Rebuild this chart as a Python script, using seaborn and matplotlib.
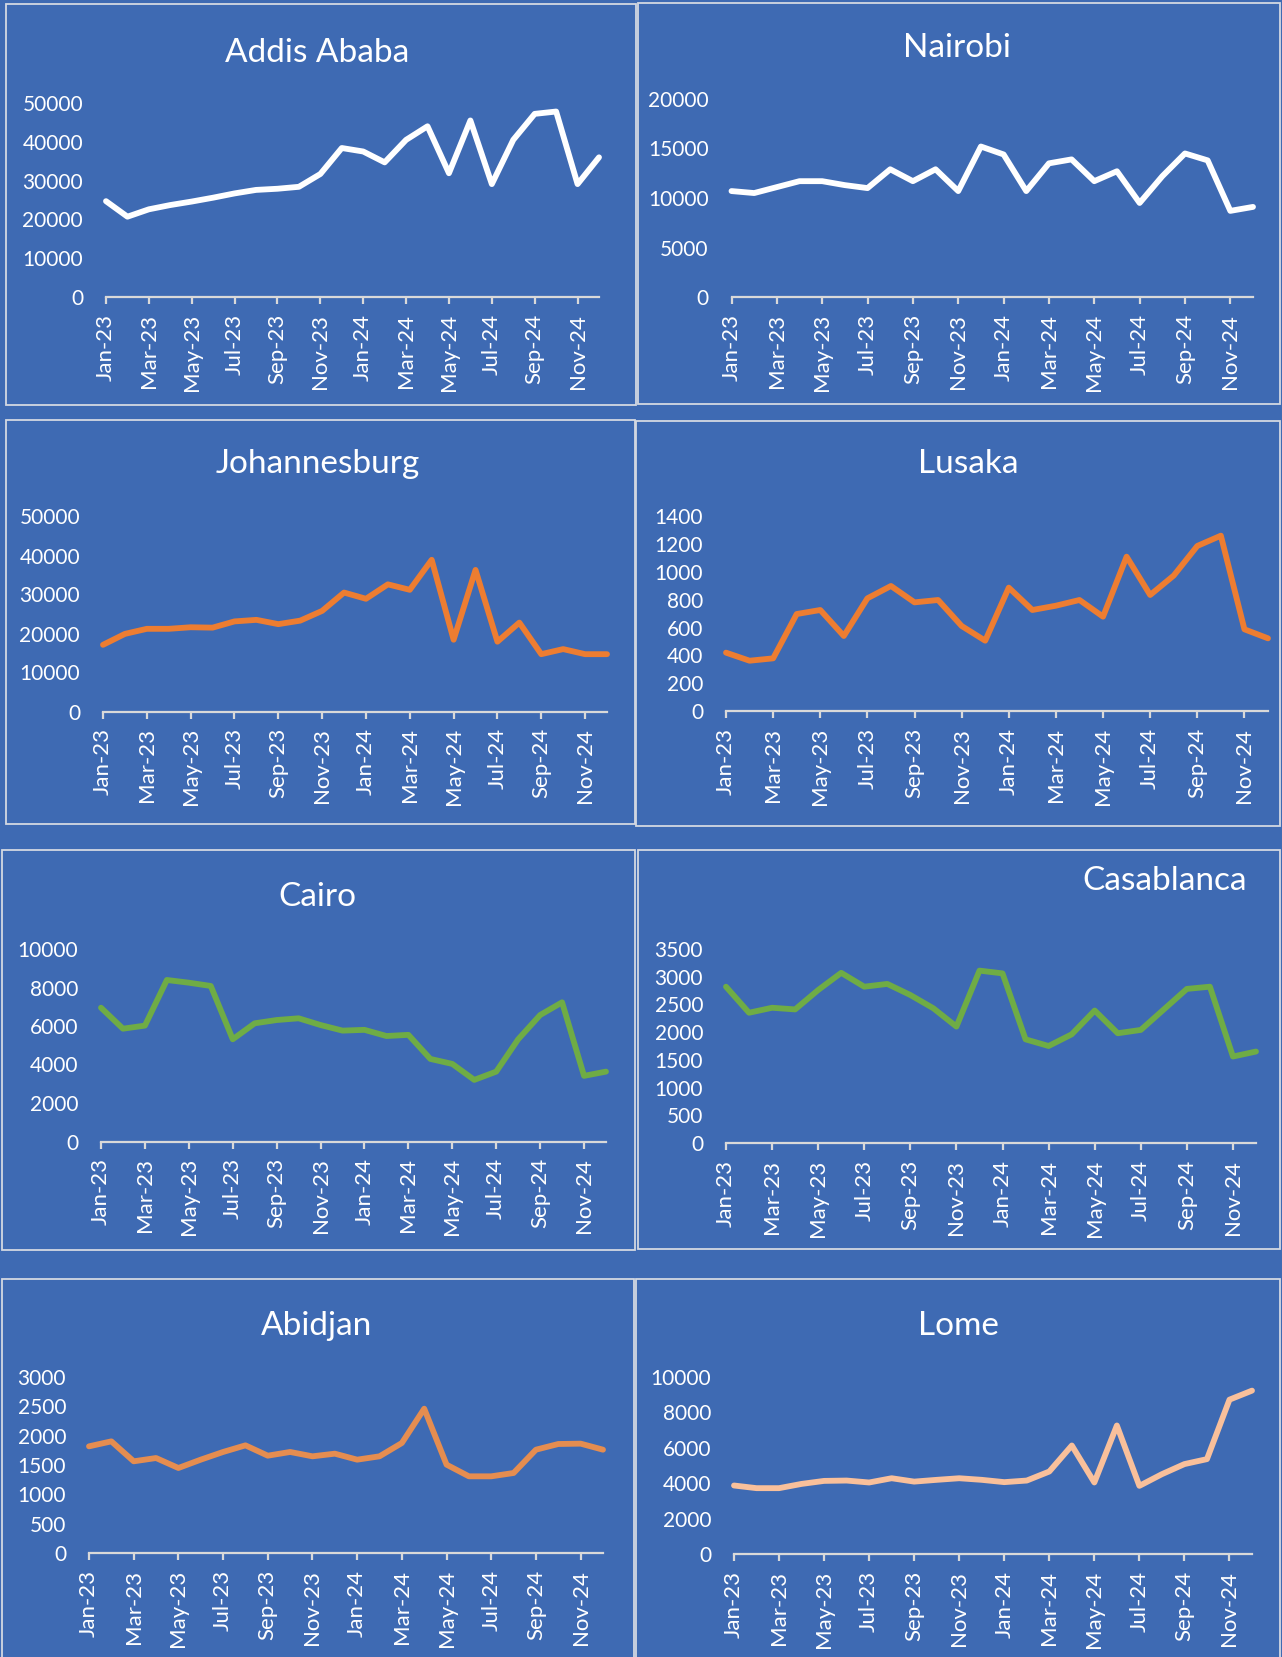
import numpy as np
import pandas as pd
import matplotlib
matplotlib.use("Agg")
import matplotlib.pyplot as plt
import seaborn as sns
from matplotlib.patches import Rectangle

# ---------------- data ----------------
months = ["Jan-23", "Feb-23", "Mar-23", "Apr-23", "May-23", "Jun-23", "Jul-23", "Aug-23",
          "Sep-23", "Oct-23", "Nov-23", "Dec-23", "Jan-24", "Feb-24", "Mar-24", "Apr-24",
          "May-24", "Jun-24", "Jul-24", "Aug-24", "Sep-24", "Oct-24", "Nov-24", "Dec-24"]

addis = [24700, 20700, 22600, 23700, 24600, 25600, 26700, 27600, 27900, 28400, 31700, 38400,
         37500, 34700, 40500, 44000, 31900, 45500, 29100, 40500, 47200, 47800, 29100, 36000]
nairobi = [10700, 10500, 11100, 11700, 11700, 11300, 11000, 12900, 11700, 12900, 10700, 15200,
           14400, 10700, 13500, 13900, 11700, 12700, 9500, 12200, 14500, 13800, 8700, 9100]
johannesburg = [17100, 19900, 21200, 21200, 21600, 21500, 23100, 23500, 22400, 23300, 25800, 30500,
                28900, 32600, 31200, 38900, 18400, 36300, 17900, 22800, 14700, 16000, 14700, 14700]
lusaka = [420, 362, 379, 698, 727, 540, 811, 900, 782, 799, 612, 506,
          888, 727, 758, 799, 679, 1111, 835, 975, 1188, 1262, 588, 523]
cairo = [6950, 5860, 6020, 8390, 8250, 8080, 5310, 6140, 6310, 6400, 6050, 5760,
         5800, 5480, 5540, 4290, 4030, 3200, 3630, 5310, 6570, 7230, 3410, 3630]
casablanca = [2820, 2350, 2440, 2410, 2760, 3070, 2820, 2870, 2670, 2430, 2100, 3110,
              3060, 1870, 1750, 1960, 2390, 1980, 2040, 2410, 2780, 2820, 1560, 1650]
abidjan = [1818, 1903, 1563, 1619, 1449, 1591, 1722, 1835, 1659, 1722, 1648, 1693,
           1591, 1648, 1875, 2460, 1506, 1307, 1307, 1364, 1761, 1858, 1864, 1761]
lome = [3870, 3720, 3720, 3960, 4130, 4150, 4040, 4280, 4090, 4190, 4280, 4190,
        4060, 4150, 4660, 6130, 4040, 7260, 3850, 4510, 5080, 5360, 8720, 9230]

cities = ["Addis Ababa", "Nairobi", "Johannesburg", "Lusaka", "Cairo", "Casablanca", "Abidjan", "Lome"]
series = [addis, nairobi, johannesburg, lusaka, cairo, casablanca, abidjan, lome]
y_max = [50000, 20000, 50000, 1400, 10000, 3500, 3000, 10000]
y_step = [10000, 5000, 10000, 200, 2000, 500, 500, 2000]

# ---------------- style ----------------
W, H = 1282, 1657
BG = "#3E6AB3"
AXC = "#D9D9D9"
colors = ["#FFFFFF", "#FFFFFF", "#ED7D31", "#ED7D31", "#6FAC45", "#6FAC45", "#E58D50", "#F9C09B"]

sns.set_theme(style="white")
plt.rcParams["font.family"] = ["Lato", "DejaVu Sans"]

fig = plt.figure(figsize=(W / 100, H / 100), dpi=100, facecolor=BG)

# axes boxes in pixels: left, right, top(ymax), bottom(y=0)
boxes = [(106, 599, 103, 297), (731.5, 1253, 99, 297),
         (103, 607, 516.5, 711.5), (726, 1268, 516.5, 711),
         (101, 606, 949, 1141.5), (726, 1256, 949, 1143),
         (89, 603, 1377, 1553), (734, 1252, 1377, 1554)]
# titles: center x, baseline y
titles = [(317, 62), (957, 57), (318, 473), (968, 473),
          (317, 906), (1165, 890), (317, 1335), (958, 1335)]
# panel frames: x0, y0, x1, y1
frames = [(6, 4, 636, 405), (638, 3, 1280, 404),
          (6, 420, 635, 824), (636, 421.5, 1280, 825.5),
          (2, 850, 635, 1250), (638, 850, 1280, 1249),
          (2, 1279, 634, 1665), (636, 1279, 1280, 1665)]

for (x0, y0, x1, y1) in frames:
    fig.patches.append(Rectangle((x0 / W, 1 - y1 / H), (x1 - x0) / W, (y1 - y0) / H,
                                 transform=fig.transFigure, fill=False,
                                 edgecolor="#D3D8E2", linewidth=1.3, zorder=0))

x_idx = np.arange(len(months))
for i, city in enumerate(cities):
    l, r, t, b = boxes[i]
    ax = fig.add_axes([l / W, 1 - b / H, (r - l) / W, (b - t) / H])
    ax.set_facecolor("none")
    df = pd.DataFrame({"idx": x_idx, "value": series[i]})
    sns.lineplot(data=df, x="idx", y="value", ax=ax, color=colors[i], linewidth=4.2)
    for ln in ax.lines:
        ln.set_solid_capstyle("round")
        ln.set_solid_joinstyle("round")
        ln.set_clip_on(False)
    ax.set_xlim(0, len(months) - 1)
    ax.set_ylim(0, y_max[i])
    ax.set_yticks(np.arange(0, y_max[i] + 1, y_step[i]))
    ax.set_yticklabels([str(int(v)) for v in np.arange(0, y_max[i] + 1, y_step[i])])
    ax.set_xticks(x_idx[::2])
    ax.set_xticklabels(months[::2], rotation=90)
    ax.set_xlabel("")
    ax.set_ylabel("")
    ax.grid(False)
    for s in ["left", "top", "right"]:
        ax.spines[s].set_visible(False)
    ax.spines["bottom"].set_color(AXC)
    ax.spines["bottom"].set_linewidth(1.6)
    ax.tick_params(axis="x", bottom=True, length=5, width=1.6, color=AXC, pad=7,
                   labelsize=16, labelcolor="white", direction="out")
    ax.tick_params(axis="y", left=False, length=0, pad=16.5, labelsize=15, labelcolor="white")
    tx, ty = titles[i]
    fig.text(tx / W, 1 - ty / H, city, ha="center", va="baseline",
             fontsize=24, color="white")

fig.savefig("out.png", dpi=100, facecolor=BG)
